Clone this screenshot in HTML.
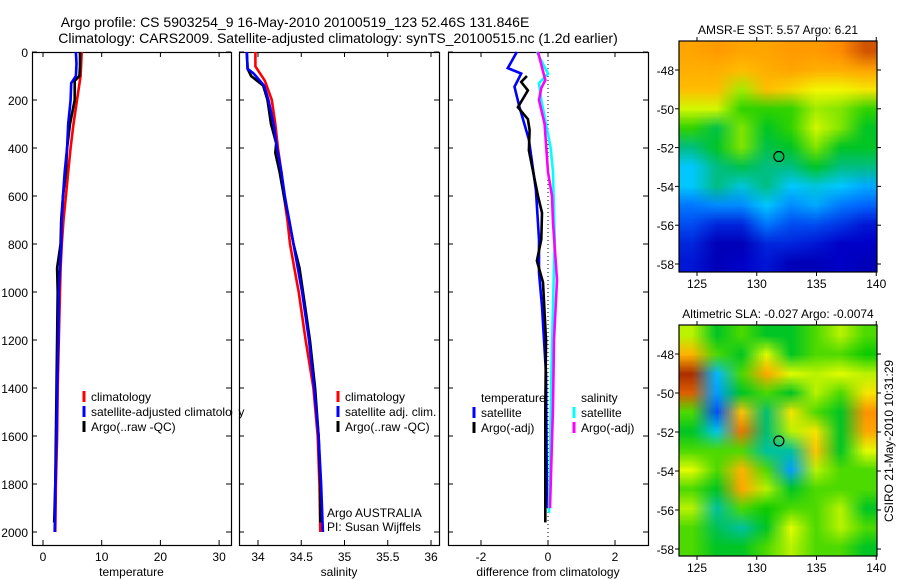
<!DOCTYPE html>
<html><head><meta charset="utf-8"><style>
body{margin:0;background:#fff;width:900px;height:580px;overflow:hidden;position:relative;font-family:"Liberation Sans",sans-serif}
svg{position:absolute;left:0;top:0}
canvas{position:absolute}
</style></head><body>
<canvas id="sstmap" style="left:679px;top:41px;width:198px;height:231px" width="198" height="231"></canvas>
<canvas id="slamap" style="left:679px;top:325px;width:198px;height:231px" width="198" height="231"></canvas>
<svg id="fig" width="900" height="580" font-family="Liberation Sans, sans-serif"></svg>
<script>
// ---------- data ----------
const depthTicks=[0,200,400,600,800,1000,1200,1400,1600,1800,2000];
const tempTickVals=[0,10,20,30];
const salTickVals=[34,34.5,35,35.5,36];
const diffTickVals=[-2,0,2];
const tClimD=[0,100,200,300,400,500,600,700,800,900,1000,1200,1400,1600,1800,2000];
const tClim=[6.6,6.4,5.8,5.2,4.7,4.3,3.9,3.5,3.2,3.0,2.9,2.7,2.5,2.4,2.2,2.1];
const tSatD=[0,50,100,130,200,300,400,500,600,700,800,1000,1200,1400,1600,1800,2000];
const tSat=[5.6,5.7,5.6,4.8,4.7,4.3,4.1,3.7,3.4,3.2,3.1,2.7,2.6,2.4,2.3,2.1,2.0];
const tArgD=[0,60,100,120,200,300,400,500,600,700,800,900,1000,1200,1400,1600,1800,1960];
const tArg=[6.3,6.3,6.2,5.4,5.4,4.6,4.1,3.9,3.4,3.1,3.0,2.4,2.5,2.4,2.3,2.2,2.1,1.9];
const sClimD=[0,60,120,200,300,400,500,600,700,800,900,1000,1200,1400,1600,1800,2000];
const sClim=[33.97,33.97,34.08,34.16,34.2,34.23,34.27,34.3,34.34,34.37,34.42,34.47,34.55,34.64,34.69,34.71,34.72];
const sSatD=[0,70,90,140,200,300,400,500,600,700,800,900,1000,1200,1400,1600,1800,2000];
const sSat=[33.87,33.88,33.95,34.07,34.12,34.18,34.22,34.27,34.31,34.36,34.41,34.46,34.51,34.59,34.65,34.7,34.73,34.75];
const sArgD=[0,70,100,140,200,300,380,420,500,600,700,800,900,1000,1200,1400,1600,1800,1960];
const sArg=[33.87,33.88,33.92,34.06,34.11,34.15,34.21,34.2,34.25,34.3,34.36,34.41,34.48,34.52,34.6,34.66,34.7,34.72,34.72];
const dTSatD=[0,67,90,145,230,365,575,780,920,1060,1340,1900];
const dTSat=[-0.93,-1.2,-0.8,-1.0,-0.85,-0.57,-0.36,-0.27,-0.27,-0.18,-0.06,-0.03];
const dTArgD=[100,125,160,230,280,325,410,530,600,670,780,870,960,1200,1500,1960];
const dTArg=[-0.63,-0.8,-0.6,-0.9,-0.6,-0.55,-0.57,-0.4,-0.3,-0.18,-0.2,-0.33,-0.15,-0.06,-0.08,-0.08];
const dSSatD=[0,90,130,200,300,400,500,780,1060,1340,1920];
const dSSat=[-0.33,0,-0.27,-0.2,-0.06,0.08,0.15,0.2,0.15,0.1,0.03];
const dSArgD=[0,117,150,200,300,400,500,600,710,950,1200,1480,1900];
const dSArg=[-0.3,-0.08,-0.2,-0.27,-0.1,-0.05,0,0.12,0.15,0.27,0.18,0.15,0.06];
const sstGrid=[
[.8,.82,.8,.8,.82,.82,.85,.92],
[.78,.78,.75,.78,.8,.78,.78,.8],
[.75,.75,.62,.75,.72,.68,.68,.7],
[.65,.65,.55,.55,.55,.62,.6,.55],
[.55,.48,.6,.5,.55,.65,.6,.5],
[.45,.5,.6,.48,.5,.6,.5,.5],
[.38,.45,.48,.45,.45,.5,.45,.45],
[.38,.45,.4,.45,.38,.4,.38,.35],
[.3,.32,.32,.38,.32,.35,.3,.28],
[.25,.2,.2,.3,.25,.25,.22,.18],
[.2,.12,.12,.2,.2,.18,.15,.15],
[.18,.12,.15,.18,.12,.12,.15,.12]];
const slaGrid=[
[.6,.5,.55,.5,.5,.55,.6,.55],
[.7,.55,.5,.62,.5,.55,.55,.52],
[.85,.4,.55,.72,.62,.6,.62,.6],
[.8,.38,.5,.55,.5,.6,.55,.65],
[.55,.32,.68,.47,.65,.55,.5,.75],
[.5,.42,.78,.47,.6,.65,.5,.72],
[.55,.55,.55,.45,.45,.68,.5,.62],
[.62,.55,.7,.55,.38,.6,.55,.55],
[.55,.5,.72,.6,.5,.55,.55,.55],
[.6,.45,.55,.52,.55,.55,.6,.5],
[.55,.48,.45,.5,.62,.55,.6,.55],
[.55,.5,.5,.55,.6,.55,.55,.5]];
const lonTicks=[125,130,135,140];
const latTicks=[-48,-50,-52,-54,-56,-58];
const argoPos=[131.85,-52.46];

// ---------- helpers ----------
const S=document.getElementById('fig');const NS='http://www.w3.org/2000/svg';
function mk(tag,at,parent){const e=document.createElementNS(NS,tag);for(const k in at)e.setAttribute(k,at[k]);(parent||S).appendChild(e);return e;}
function txt(x,y,s,anchor,size,parent){const e=mk('text',{x:x,y:y,'text-anchor':anchor||'start','font-size':size||12,fill:'#000'},parent);e.textContent=s;return e;}
const yD=d=>52+0.24*d;
const P1={l:32,r:231,x:v=>43+5.87*v};
const P2={l:239,r:439,x:v=>258+86.5*(v-34)};
const P3={l:448,r:648,x:v=>548+33.5*v};
const pTop=52,pBot=545;

function panel(P,name,ticks,labels,xlabel,showY){
  const g=mk('g',{});
  
  
  mk('rect',{x:P.l+.5,y:pTop+.5,width:P.r-P.l,height:pBot-pTop,fill:'none',stroke:'#000','stroke-width':1.2},g);
  ticks.forEach((v,i)=>{const x=P.x(v);
    mk('line',{x1:x,y1:pBot,x2:x,y2:pBot-5,stroke:'#000'},g);
    mk('line',{x1:x,y1:pTop,x2:x,y2:pTop+5,stroke:'#000'},g);
    const t=txt(x,561,labels[i],'middle',12,g);
    
    
  });
  depthTicks.forEach(d=>{const y=yD(d);
    mk('line',{x1:P.l,y1:y,x2:P.l+5,y2:y,stroke:'#000'},g);
    mk('line',{x1:P.r,y1:y,x2:P.r-5,y2:y,stroke:'#000'},g);
    if(showY){const t=txt(28,y+5,String(d),'end',12,g);
      
      }
  });
  const xl=txt((P.l+P.r)/2,576,xlabel,'middle',12,g);
  
  
  return g;
}
function line(P,vals,deps,color,name){
  const pts=vals.map((v,i)=>P.x(v).toFixed(1)+','+yD(deps[i]).toFixed(1)).join(' ');
  const e=mk('polyline',{points:pts,fill:'none',stroke:color,'stroke-width':2.6});
  
  
}
function legend(x,y,items){
  items.forEach((it,i)=>{const yy=y+i*15;
    if(it[1]){mk('line',{x1:x,y1:yy-6,x2:x,y2:yy+5,stroke:it[1],'stroke-width':3});}
    const t=txt(x+7,yy+4,it[0],'start',12);
    
    
  });
}

// titles
let t1=txt(295,27,'Argo profile: CS 5903254_9 16-May-2010 20100519_123 52.46S 131.846E','middle',14);


let t2=txt(338,43,'Climatology: CARS2009. Satellite-adjusted climatology: synTS_20100515.nc (1.2d earlier)','middle',14);



// panel 1
panel(P1,'temperature-panel',tempTickVals,tempTickVals.map(String),'temperature',true);
line(P1,tClim,tClimD,'#ff0000','temp-climatology-line');
line(P1,tArg,tArgD,'#000000','temp-argo-line');
line(P1,tSat,tSatD,'#0000ff','temp-satellite-line');
legend(84,397,[['climatology','#f00'],['satellite-adjusted climatology','#00f'],['Argo(..raw -QC)','#000']]);
mk('rect',{x:232.5,y:380,width:6,height:60,fill:'#fff'});
// panel 2
panel(P2,'salinity-panel',salTickVals,['34','34.5','35','35.5','36'],'salinity',false);
line(P2,sClim,sClimD,'#ff0000','sal-climatology-line');
line(P2,sArg,sArgD,'#000000','sal-argo-line');
line(P2,sSat,sSatD,'#0000ff','sal-satellite-line');
legend(338,397,[['climatology','#f00'],['satellite adj. clim.','#00f'],['Argo(..raw -QC)','#000']]);
let a1=txt(327,517,'Argo AUSTRALIA','start',12);
let a2=txt(327,531,'PI: Susan Wijffels','start',12);
// panel 3
panel(P3,'difference-panel',diffTickVals,['-2','0','2'],'difference from climatology',false);
mk('line',{x1:P3.x(0),y1:pTop,x2:P3.x(0),y2:pBot,stroke:'#000','stroke-dasharray':'1,3'});
line(P3,dTSat,dTSatD,'#0000ff','diff-temp-satellite-line');
line(P3,dTArg,dTArgD,'#000000','diff-temp-argo-line');
line(P3,dSSat,dSSatD,'#00ffff','diff-sal-satellite-line');
line(P3,dSArg,dSArgD,'#ff00ff','diff-sal-argo-line');
legend(474,398,[['temperature',null],['satellite','#00f'],['Argo(-adj)','#000']]);
legend(574,398,[['salinity',null],['satellite','#0ff'],['Argo(-adj)','#f0f']]);

// maps
const stops=[[0,[0,0,120]],[.15,[0,0,200]],[.28,[0,100,255]],[.38,[0,200,255]],[.45,[0,190,130]],[.52,[0,200,0]],[.6,[130,230,0]],[.67,[240,255,0]],[.75,[255,190,0]],[.85,[255,140,0]],[.95,[190,60,0]],[1,[150,30,0]]];
function cmap(v){v=Math.max(0,Math.min(1,v));for(let i=1;i<stops.length;i++){if(v<=stops[i][0]){const a=stops[i-1],b=stops[i];const f=(v-a[0])/(b[0]-a[0]);return a[1].map((c,k)=>Math.round(c+(b[1][k]-c)*f));}}return stops[stops.length-1][1];}
function drawMap(id,grid,gain){
  const c=document.getElementById(id),ctx=c.getContext('2d');
  const sm=document.createElement('canvas');sm.width=grid[0].length;sm.height=grid.length;
  const sx=sm.getContext('2d');const im=sx.createImageData(sm.width,sm.height);
  grid.forEach((row,j)=>row.forEach((v,i)=>{const col=cmap(0.5+(v-0.5)*gain);const o=(j*sm.width+i)*4;im.data[o]=col[0];im.data[o+1]=col[1];im.data[o+2]=col[2];im.data[o+3]=255;}));
  sx.putImageData(im,0,0);ctx.imageSmoothingEnabled=true;ctx.drawImage(sm,0,0,c.width,c.height);
}
drawMap('sstmap',sstGrid,1);drawMap('slamap',slaGrid,1.35);
function mapAxes(name,y0,y1,lat48,lat58,title){
  const g=mk('g',{});
  
  
  const l=679,r=877;const xL=v=>697+(v-125)*11.95;const yL=v=>lat48+(v+48)/-10*(lat58-lat48);
  mk('rect',{x:l,y:y0,width:r-l,height:y1-y0,fill:'none',stroke:'#000','stroke-width':1.2},g);
  lonTicks.forEach(v=>{const x=xL(v);mk('line',{x1:x,y1:y1,x2:x,y2:y1+4,stroke:'#000'},g);mk('line',{x1:x,y1:y0,x2:x,y2:y0-4,stroke:'#000'},g);
    const t=txt(x,y1+16,String(v),'middle',12,g);});
  latTicks.forEach(v=>{const y=yL(v);mk('line',{x1:l,y1:y,x2:l-4,y2:y,stroke:'#000'},g);mk('line',{x1:r,y1:y,x2:r+4,y2:y,stroke:'#000'},g);
    const t=txt(674,y+5,String(v),'end',12,g);});
  const c=mk('circle',{cx:xL(argoPos[0]),cy:yL(argoPos[1]),r:5,fill:'none',stroke:'#000','stroke-width':1.2},g);
  
  
  const t=txt(778,y0-7,title,'middle',12,g);
}
mapAxes('sst-map-axes',41,272,70,264,'AMSR-E SST: 5.57 Argo: 6.21');
mapAxes('sla-map-axes',325,556,354,549,'Altimetric SLA: -0.027 Argo: -0.0074');
const cs=txt(0,0,'CSIRO 21-May-2010 10:31:29','middle',12);
cs.setAttribute('transform','translate(893,441) rotate(-90)');


</script>
</body></html>
